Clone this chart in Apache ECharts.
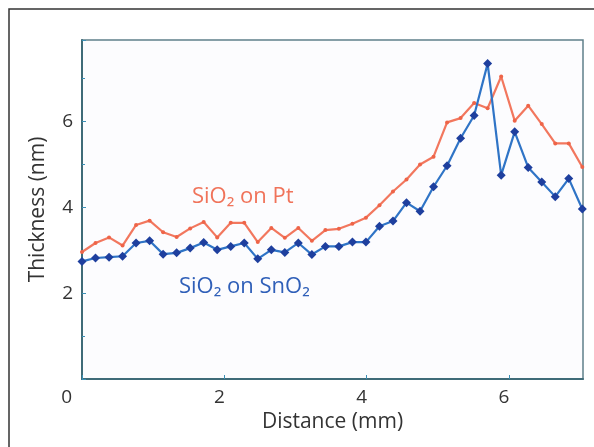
<!DOCTYPE html>
<html>
<head>
<meta charset="utf-8">
<script src="https://cdn.jsdelivr.net/npm/echarts@6/dist/echarts.min.js"></script>
<style>
  html, body { margin: 0; padding: 0; background: #fff; }
  #chart { width: 594px; height: 447px; }
</style>
</head>
<body>
<div id="chart"></div>
<script>
// distance along the sample (mm)
const distance = [0, 0.19, 0.38, 0.57, 0.76, 0.95, 1.14, 1.33, 1.52, 1.71,
  1.90, 2.09, 2.28, 2.47, 2.66, 2.85, 3.04, 3.23, 3.42, 3.61,
  3.80, 3.99, 4.18, 4.37, 4.56, 4.75, 4.94, 5.13, 5.32, 5.51,
  5.70, 5.89, 6.08, 6.27, 6.46, 6.65, 6.84, 7.03];

// thickness (nm)
const sio2OnPt = [2.96, 3.17, 3.30, 3.11, 3.59, 3.69, 3.42, 3.31, 3.51, 3.66,
  3.30, 3.64, 3.64, 3.19, 3.52, 3.29, 3.52, 3.22, 3.47, 3.50,
  3.62, 3.76, 4.05, 4.37, 4.65, 5.00, 5.18, 5.98, 6.08, 6.43,
  6.31, 7.05, 6.02, 6.37, 5.94, 5.49, 5.49, 4.94];

const sio2OnSnO2 = [2.74, 2.82, 2.84, 2.86, 3.17, 3.22, 2.91, 2.94, 3.05, 3.18,
  3.01, 3.09, 3.17, 2.80, 3.01, 2.95, 3.17, 2.90, 3.09, 3.09,
  3.19, 3.19, 3.56, 3.68, 4.11, 3.91, 4.48, 4.97, 5.61, 6.14,
  7.35, 4.75, 5.76, 4.93, 4.59, 4.25, 4.67, 3.96];

const font = '"Open Sans", "Noto Sans", sans-serif';

const chart = echarts.init(document.getElementById('chart'));

const axisColor = '#3f6b78';
const tickColor = '#3a8fb5';

const option = {
  backgroundColor: '#fff',
  animation: false,
  grid: {
    left: 82,
    right: 11,
    top: 40,
    bottom: 68,
    show: true,
    backgroundColor: '#fcfcfe',
    borderColor: '#5f808a',
    borderWidth: 1.5
  },
  xAxis: {
    type: 'value',
    min: 0,
    max: 7.04,
    interval: 2,
    name: 'Distance (mm)',
    nameLocation: 'middle',
    nameGap: 30,
    nameTextStyle: { fontFamily: font, fontSize: 21, color: '#333' },
    axisLine: { show: true, lineStyle: { color: axisColor, width: 2 } },
    axisTick: { show: true, inside: true, length: 4, lineStyle: { color: tickColor } },
    axisLabel: {
      fontFamily: font, fontSize: 19, color: '#333', margin: 9,
      showMaxLabel: false,
      alignMinLabel: 'right',
      padding: [0, 10, 0, 0]
    },
    splitLine: { show: false }
  },
  yAxis: {
    type: 'value',
    min: 0,
    max: 7.9,
    interval: 2,
    name: 'Thickness (nm)',
    nameLocation: 'middle',
    nameGap: 33,
    nameTextStyle: { fontFamily: font, fontSize: 21, color: '#333' },
    axisLine: { show: true, lineStyle: { color: axisColor, width: 2 } },
    axisTick: { show: true, inside: true, length: 4, lineStyle: { color: tickColor } },
    minorTick: { show: true, splitNumber: 2, length: 3, lineStyle: { color: tickColor } },
    axisLabel: {
      fontFamily: font, fontSize: 19, color: '#333', margin: 9,
      showMaxLabel: false,
      formatter: (v) => (v === 0 ? '' : v)
    },
    splitLine: { show: false }
  },
  graphic: [
    {
      type: 'rect',
      silent: true,
      shape: { x: 9, y: 9, width: 620, height: 470 },
      style: { fill: 'none', stroke: '#333', lineWidth: 1.5 }
    },
    {
      type: 'text',
      x: 192,
      y: 197,
      style: {
        text: 'SiO₂ on Pt', fontFamily: font, fontSize: 22, fill: '#f0735a',
        verticalAlign: 'middle'
      }
    },
    {
      type: 'text',
      x: 179,
      y: 287,
      style: {
        text: 'SiO₂ on SnO₂', fontFamily: font, fontSize: 22, fill: '#2f5fb8',
        verticalAlign: 'middle'
      }
    }
  ],
  series: [
    {
      name: 'SiO2 on Pt',
      type: 'line',
      data: distance.map((d, i) => [d, sio2OnPt[i]]),
      symbol: 'circle',
      symbolSize: 4,
      lineStyle: { color: '#f2775e', width: 2.2 },
      itemStyle: { color: '#ee6448' }
    },
    {
      name: 'SiO2 on SnO2',
      type: 'line',
      data: distance.map((d, i) => [d, sio2OnSnO2[i]]),
      symbol: 'diamond',
      symbolSize: 9,
      lineStyle: { color: '#2f74c6', width: 2.2 },
      itemStyle: { color: '#1e3f9e' }
    }
  ]
};

chart.setOption(option);
</script>
</body>
</html>
